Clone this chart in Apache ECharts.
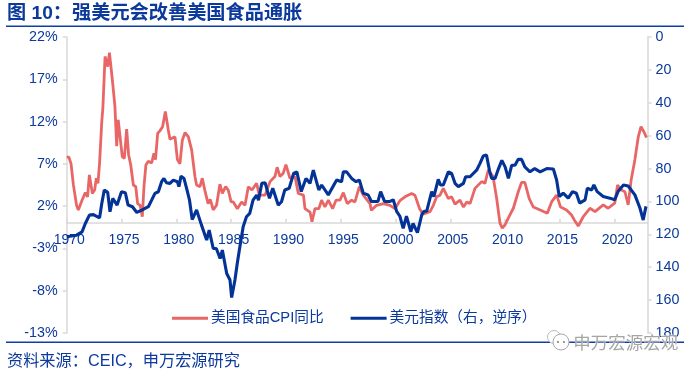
<!DOCTYPE html>
<html><head><meta charset="utf-8">
<style>html,body{margin:0;padding:0;background:#fff}#c{width:700px;height:374px}</style>
<script src="https://cdn.jsdelivr.net/npm/echarts@6/dist/echarts.min.js"></script>
</head><body><div id="c"></div>
<script>
const foodName = '美国食品CPI同比';
const dollarName = '美元指数（右，逆序）';
const foodYears = [1970,1970.2,1970.4,1970.6,1970.75,1970.9,1971.06,1971.4,1971.7,1971.9,1972.07,1972.34,1972.55,1972.7,1972.85,1973,1973.2,1973.3,1973.5,1973.74,1973.9,1974.04,1974.2,1974.4,1974.56,1974.7,1974.88,1975.07,1975.26,1975.47,1975.65,1975.84,1976.08,1976.3,1976.47,1976.7,1976.9,1977.05,1977.23,1977.45,1977.75,1977.96,1978.1,1978.3,1978.5,1978.75,1979,1979.27,1979.42,1979.88,1980.1,1980.33,1980.55,1980.8,1981.1,1981.4,1981.7,1981.85,1982.16,1982.37,1982.6,1982.9,1983.1,1983.37,1983.67,1983.98,1984.2,1984.5,1984.74,1985,1985.2,1985.57,1985.96,1986.27,1986.57,1986.9,1987.33,1987.57,1988.1,1988.55,1989,1989.2,1989.46,1989.76,1990,1990.37,1990.83,1991.13,1991.6,1991.74,1992.2,1992.38,1992.65,1993,1993.26,1993.56,1993.87,1994.26,1994.57,1994.93,1995.24,1995.6,1996,1996.3,1996.7,1997.06,1997.67,1997.8,1998.27,1998.9,1999.5,1999.95,2000.4,2000.86,2001.47,2001.77,2002.2,2002.5,2003.15,2003.45,2003.75,2004.06,2004.36,2004.82,2005.12,2005.43,2005.88,2006.2,2006.5,2006.8,2007.25,2007.86,2008.16,2008.47,2008.9,2009.23,2009.53,2009.74,2010,2010.3,2010.75,2011.2,2011.5,2011.8,2012.2,2012.57,2013.2,2013.85,2014.24,2014.7,2015.06,2015.6,2016.06,2016.3,2016.67,2017.13,2017.74,2018.2,2018.95,2019.4,2020,2020.26,2020.6,2020.93,2021.23,2021.5,2021.84,2022.15,2022.4,2022.66,2022.9];
const foodValues = [7.8,7.8,7,4.6,4.5,2.1,1.55,2.7,3.6,3.1,5.7,3.5,3.9,5.3,4.7,7.1,12,13.6,19.7,18.5,20.15,20.15,16.5,13.8,9.1,12.2,12.2,7.85,7.65,11.1,8.05,6.9,4.5,4.3,2.3,2.1,0.75,4.3,6.9,7.3,7.1,8.25,7.5,10.6,10.9,11.4,13.2,11,9.9,10.2,7.5,7,9.8,10.7,10.2,8.65,5.5,4.5,4.3,5.3,3.9,2.3,2.8,1.55,2.1,4.6,3.5,4.3,3.9,2.5,2.5,1.7,2.5,2.1,4.3,3.9,4.7,3.3,3.3,4.9,5.5,6.6,5.5,5.9,6.9,5.3,5.5,3.5,3.3,1.7,1.3,0.16,1.7,1.7,2.7,1.9,2.7,1.7,2.7,2.7,3.6,2.3,2.7,2.5,4.3,3.3,2.3,1.5,2.1,2.3,2.1,1.7,2.65,3.1,3.5,3.3,1.7,1.05,1.35,2.1,3.1,3.3,4.1,2.9,3.1,2.25,2.7,1.9,2.5,2.3,4.1,4.9,4.7,6.3,5.5,2.9,0,-0.6,-0.2,0.6,1.75,3.7,4.8,4.8,2.9,1.9,1.55,1.15,2.5,3.3,1.9,1.55,0.95,0.4,-0.35,0.75,1.75,1.35,2.15,1.75,2.35,4.5,3.9,3.7,2.15,5.1,7.5,10.2,11.4,10.8,10.1];
const dollarYears = [1970,1970.9,1971.4,1971.7,1972.07,1972.43,1973,1973.2,1973.43,1973.74,1973.95,1974.2,1974.6,1975,1975.35,1975.6,1976,1976.4,1976.85,1977.45,1977.75,1978.05,1978.36,1978.66,1978.87,1979.1,1979.42,1979.73,1980.1,1980.24,1980.43,1980.7,1980.94,1981.2,1981.45,1981.85,1982.3,1982.77,1983,1983.37,1983.65,1984,1984.2,1984.6,1984.9,1985.05,1985.2,1985.35,1985.56,1985.8,1986.1,1986.4,1986.7,1987,1987.33,1987.5,1987.8,1988.1,1988.5,1988.8,1989.3,1989.6,1989.9,1990.3,1990.7,1991,1991.4,1991.83,1992.2,1992.5,1993,1993.26,1993.87,1994.63,1995.08,1995.24,1995.54,1996,1996.4,1996.7,1997.06,1997.5,1997.8,1998.4,1998.64,1999,1999.5,1999.8,2000.1,2000.4,2000.7,2001,2001.4,2001.6,2002,2002.4,2002.6,2002.84,2003.3,2003.5,2003.9,2004.1,2004.36,2004.82,2005.12,2005.43,2005.73,2006.2,2006.4,2006.8,2007.4,2007.7,2008,2008.3,2008.6,2008.77,2009.08,2009.4,2009.7,2010,2010.3,2010.6,2010.9,2011.2,2011.5,2011.8,2012.27,2012.7,2013.2,2013.8,2014.4,2014.7,2014.94,2015.3,2015.76,2016.15,2016.5,2016.8,2017.3,2017.5,2017.9,2018.1,2018.4,2018.95,2019.56,2020,2020.3,2020.8,2021.23,2021.84,2022.3,2022.6,2022.85];
const dollarValues = [121.5,120.5,118.5,113.4,108.3,108,110,101.2,93.1,94.5,106.3,98.2,102.2,94.1,94.7,102.2,103.2,106.7,105.3,103.2,99.2,95.1,94.1,88,86,88.6,89,87,88,91,84.6,86,92,99,111,105.2,114.4,123.5,117.4,128.6,128.6,134.7,129.6,143.8,147.8,158.4,158.4,147.8,137.7,127.6,115.4,109.3,107.3,99.2,96.1,99.2,89,88.6,98.1,92,102.2,100.2,93,92,83,82,94,86,89,81,93,90,96,87,88,82,82,86,88,87,95,96,100,100,94,100,100,99,106,109,116.4,109,118.4,113.4,119,108,106,106,94,97,86.6,90,90,82,83,89,91,89,85,85,81,77,72.4,71.8,82,86,86,80,75,79,86,78,78,74.4,74.4,79,82,80,82,80,80.3,87,97,95,98,94,95,101,99,92,93,90,94,97,98,99,94,90,90.6,96,104,111.3,103];

const ink = '#0b399c', grey = '#d9d9d9', sans = '"Liberation Sans","Noto Sans CJK SC",sans-serif';
const zip = (a, b) => a.map((x, i) => [x, b[i]]);
const chart = echarts.init(document.getElementById('c'), null, {renderer: 'canvas'});
chart.setOption({
  animation: false,
  backgroundColor: '#fff',
  textStyle: {fontFamily: sans},
  grid: {left: 66.7, right: 52.4, top: 37, height: 296, containLabel: false},
  legend: {
    left: 167, top: 306, padding: 5, icon: 'rect', itemWidth: 36, itemHeight: 3, itemGap: 27,
    data: [{name: foodName}, {name: dollarName}],
    textStyle: {color: ink, fontSize: 14.7, fontFamily: sans, padding: [0, 0, 0, -2]}
  },
  xAxis: {
    type: 'value', min: 1970, max: 2023, interval: 5, offset: -110.3,
    splitLine: {show: false},
    axisLine: {show: true, onZero: false, lineStyle: {color: grey, width: 1.5}},
    axisTick: {show: true, inside: true, length: 4, lineStyle: {color: grey, width: 1.5}},
    axisLabel: {color: ink, fontSize: 14, margin: 10, padding: [0, 0, 0, 5], showMaxLabel: false, hideOverlap: false, formatter: v => String(v)}
  },
  yAxis: [{
    type: 'value', min: -13, max: 22, interval: 5,
    splitLine: {show: false},
    axisLine: {show: true, onZero: false, lineStyle: {color: grey, width: 1.5}},
    axisTick: {show: true, length: 4, lineStyle: {color: grey, width: 1.5}},
    axisLabel: {color: ink, fontSize: 14.3, margin: 9, formatter: '{value}%'}
  }, {
    type: 'value', min: 0, max: 180, interval: 20, inverse: true, position: 'right',
    splitLine: {show: false},
    axisLine: {show: true, onZero: false, lineStyle: {color: grey, width: 1.5}},
    axisTick: {show: true, length: 4, lineStyle: {color: grey, width: 1.5}},
    axisLabel: {color: ink, fontSize: 14.3, margin: 8}
  }],
  series: [{
    name: foodName, type: 'line', yAxisIndex: 0, data: zip(foodYears, foodValues),
    showSymbol: false, symbol: 'none', lineStyle: {color: '#e96666', width: 2.8}, itemStyle: {color: '#e96666'}, z: 2
  }, {
    name: dollarName, type: 'line', yAxisIndex: 1, data: zip(dollarYears, dollarValues),
    showSymbol: false, symbol: 'none', lineStyle: {color: '#033397', width: 3.1}, itemStyle: {color: '#033397'}, z: 3
  }],
  graphic: [
    {type: 'text', left: 7, top: 4, style: {text: '图 10：强美元会改善美国食品通胀', fill: ink, font: 'bold 19.2px "Liberation Sans","Noto Sans CJK SC",sans-serif'}},
    {type: 'rect', shape: {x: 6, y: 25.5, width: 678, height: 1.4}, style: {fill: '#0f3fa6'}},
    {type: 'rect', shape: {x: 6, y: 341.5, width: 678, height: 1.4}, style: {fill: '#0f3fa6'}},
    {type: 'text', left: 7, top: 353, style: {text: '资料来源：CEIC，申万宏源研究', fill: ink, font: '16.2px "Liberation Sans","Noto Sans CJK SC",sans-serif'}},
    {type: 'circle', z: 20, shape: {cx: 554, cy: 337, r: 6.5}, style: {fill: '#fff', stroke: '#bdbdbd', lineWidth: 1}},
    {type: 'circle', z: 21, shape: {cx: 561, cy: 342, r: 8}, style: {fill: '#fff', stroke: '#a8a8a8', lineWidth: 1}},
    {type: 'circle', z: 22, shape: {cx: 558, cy: 342, r: 1}, style: {fill: '#777'}},
    {type: 'circle', z: 22, shape: {cx: 564, cy: 342, r: 1}, style: {fill: '#777'}},
    {type: 'text', z: 23, left: 573, top: 333, style: {text: '申万宏源宏观', fill: '#a6a6a6', stroke: '#ffffff', lineWidth: 0.5, font: '17.5px "Noto Sans CJK SC",sans-serif'}}
  ]
});
</script></body></html>
